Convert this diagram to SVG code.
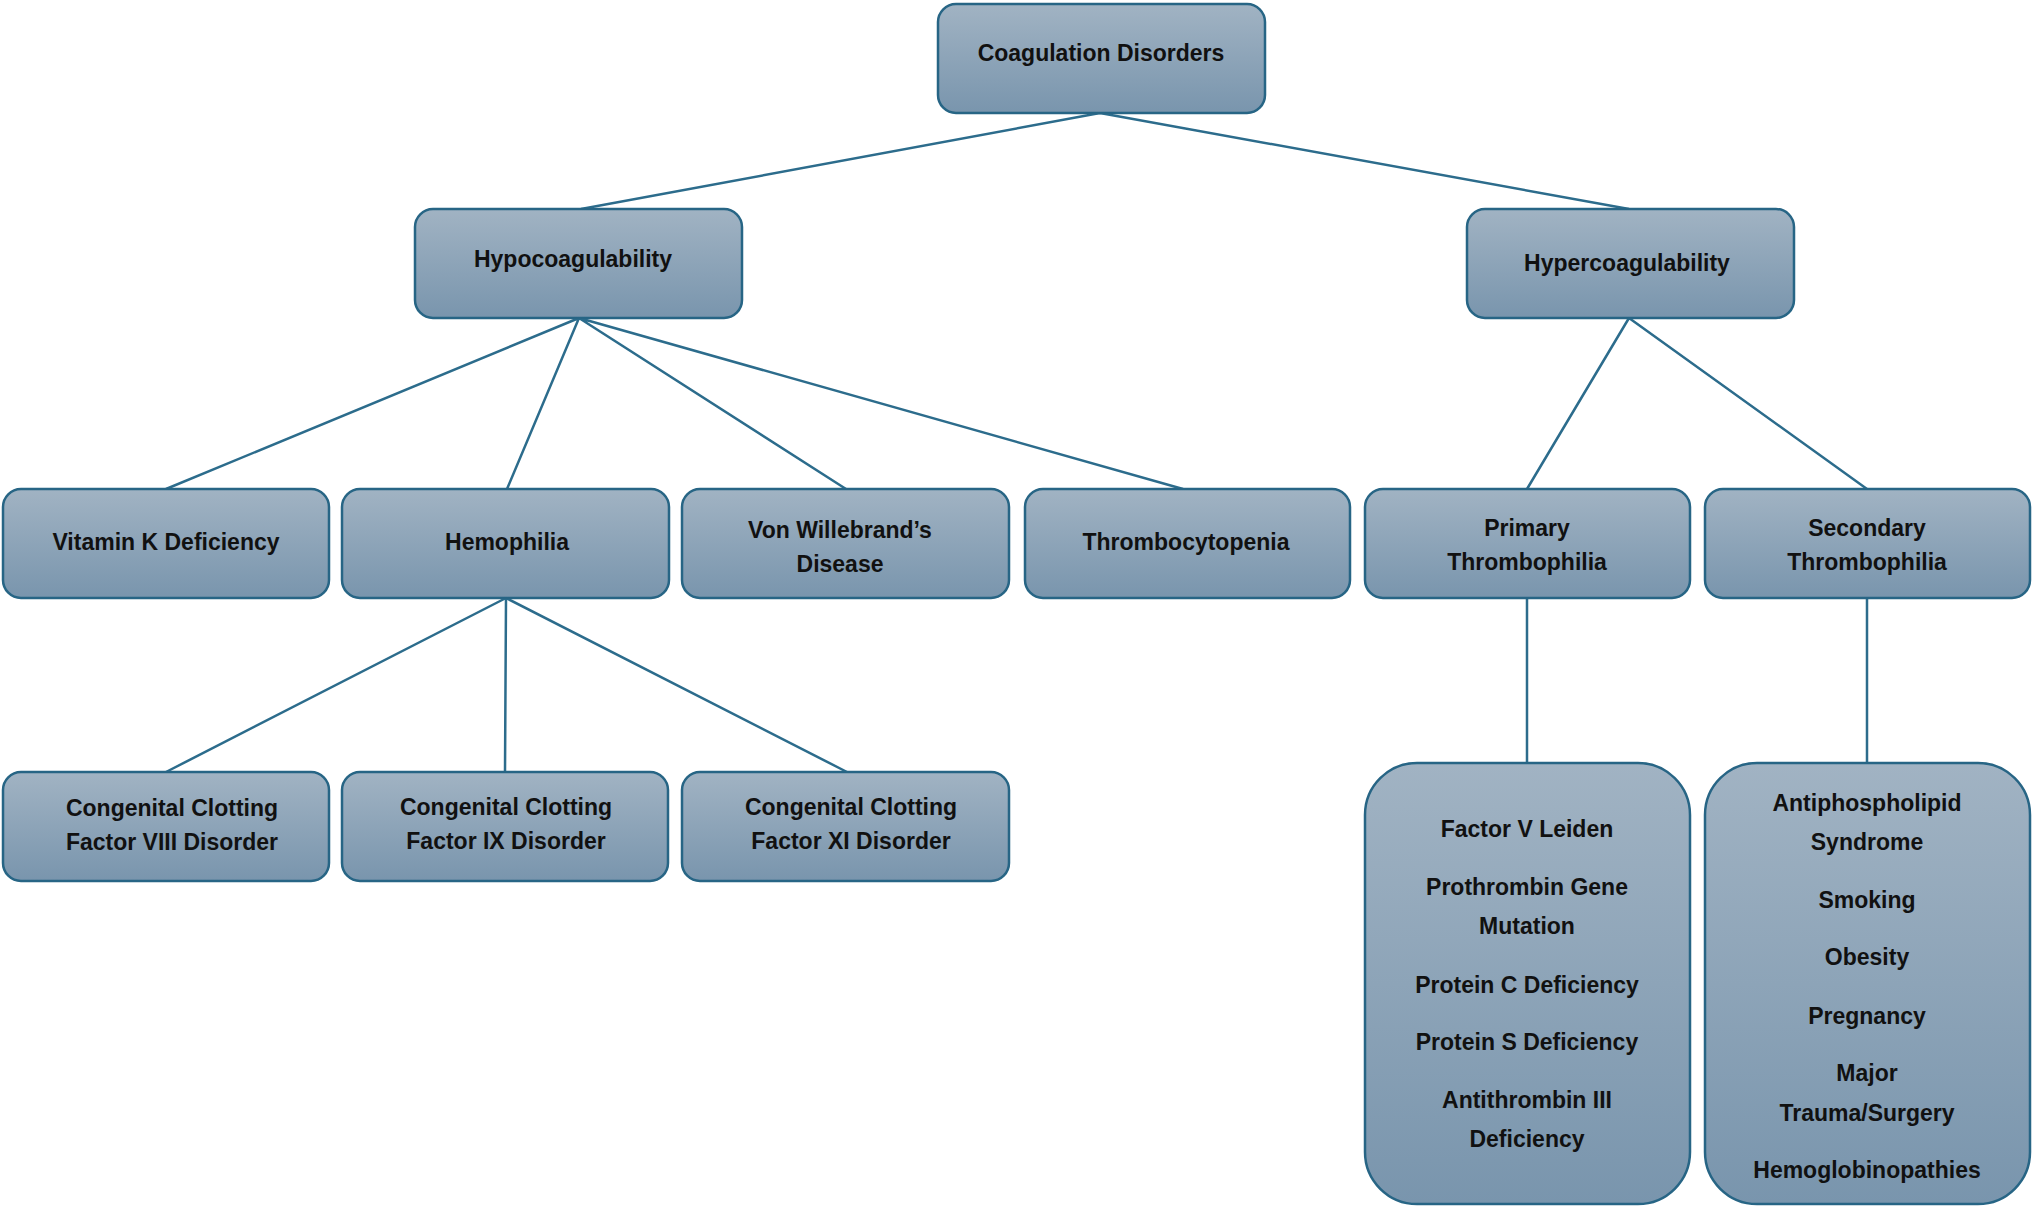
<svg xmlns="http://www.w3.org/2000/svg" width="2034" height="1208" viewBox="0 0 2034 1208">
<defs>
<linearGradient id="g" x1="0" y1="0" x2="0" y2="1"><stop offset="0" stop-color="#a1b3c3"/><stop offset="1" stop-color="#7995ad"/></linearGradient>
<style>
.b{fill:url(#g);stroke:#276585;stroke-width:2.5}
.t{font-family:"Liberation Sans",Arial,sans-serif;font-weight:bold;font-size:23px;fill:#111;text-anchor:middle}
.c{stroke:#2c6c8c;stroke-width:2.5;fill:none}
</style>
</defs>
<rect width="2034" height="1208" fill="#fff"/>
<g id="connectors" class="c">
<path d="M1100 113L581 209M1100 113L1629 209"/>
<path d="M579 318L166 489M579 318L507 489M579 318L846 489M579 318L1183 489"/>
<path d="M1629 318L1527 489M1629 318L1867 489"/>
<path d="M506 598L166 772M506 598L505 772M506 598L847 772"/>
<path d="M1527 598L1527 763M1867 598L1867 763"/>
</g>
<g id="root"><rect class="b" x="938" y="4" width="327" height="109" rx="18"/><text class="t" x="1101" y="61">Coagulation Disorders</text></g>
<g id="hypo"><rect class="b" x="415" y="209" width="327" height="109" rx="18"/><text class="t" x="573" y="267">Hypocoagulability</text></g>
<g id="hyper"><rect class="b" x="1467" y="209" width="327" height="109" rx="18"/><text class="t" x="1627" y="271">Hypercoagulability</text></g>
<g id="vitk"><rect class="b" x="3" y="489" width="326" height="109" rx="18"/><text class="t" x="166" y="550">Vitamin K Deficiency</text></g>
<g id="hemo"><rect class="b" x="342" y="489" width="327" height="109" rx="18"/><text class="t" x="507" y="550">Hemophilia</text></g>
<g id="vwd"><rect class="b" x="682" y="489" width="327" height="109" rx="18"/><text class="t" x="840" y="538">Von Willebrand’s</text><text class="t" x="840" y="572">Disease</text></g>
<g id="thrombo"><rect class="b" x="1025" y="489" width="325" height="109" rx="18"/><text class="t" x="1186" y="550">Thrombocytopenia</text></g>
<g id="primary"><rect class="b" x="1365" y="489" width="325" height="109" rx="18"/><text class="t" x="1527" y="536">Primary</text><text class="t" x="1527" y="570">Thrombophilia</text></g>
<g id="secondary"><rect class="b" x="1705" y="489" width="325" height="109" rx="18"/><text class="t" x="1867" y="536">Secondary</text><text class="t" x="1867" y="570">Thrombophilia</text></g>
<g id="f8"><rect class="b" x="3" y="772" width="326" height="109" rx="18"/><text class="t" x="172" y="816">Congenital Clotting</text><text class="t" x="172" y="850">Factor VIII Disorder</text></g>
<g id="f9"><rect class="b" x="342" y="772" width="326" height="109" rx="18"/><text class="t" x="506" y="815">Congenital Clotting</text><text class="t" x="506" y="849">Factor IX Disorder</text></g>
<g id="f11"><rect class="b" x="682" y="772" width="327" height="109" rx="18"/><text class="t" x="851" y="815">Congenital Clotting</text><text class="t" x="851" y="849">Factor XI Disorder</text></g>
<g id="primary-list"><rect class="b" x="1365" y="763" width="325" height="441" rx="52"/>
<text class="t" x="1527" y="837">Factor V Leiden</text>
<text class="t" x="1527" y="895">Prothrombin Gene</text>
<text class="t" x="1527" y="934">Mutation</text>
<text class="t" x="1527" y="993">Protein C Deficiency</text>
<text class="t" x="1527" y="1050">Protein S Deficiency</text>
<text class="t" x="1527" y="1108">Antithrombin III</text>
<text class="t" x="1527" y="1147">Deficiency</text></g>
<g id="secondary-list"><rect class="b" x="1705" y="763" width="325" height="441" rx="52"/>
<text class="t" x="1867" y="811">Antiphospholipid</text>
<text class="t" x="1867" y="850">Syndrome</text>
<text class="t" x="1867" y="908">Smoking</text>
<text class="t" x="1867" y="965">Obesity</text>
<text class="t" x="1867" y="1024">Pregnancy</text>
<text class="t" x="1867" y="1081">Major</text>
<text class="t" x="1867" y="1121">Trauma/Surgery</text>
<text class="t" x="1867" y="1178">Hemoglobinopathies</text></g>
</svg>
